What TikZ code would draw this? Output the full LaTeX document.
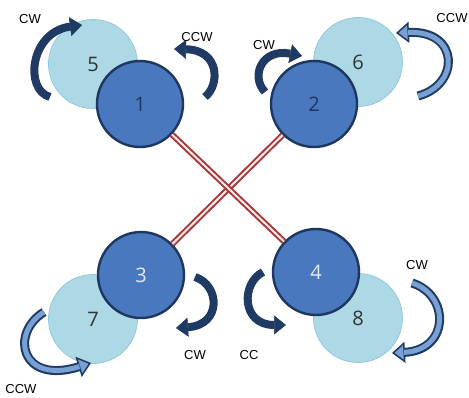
\documentclass[tikz,border=0pt]{standalone}
\usepackage{fontspec}
\setmainfont{Open Sans}
\newfontfamily\labelfont{Liberation Sans}
\usetikzlibrary{arrows.meta}
\definecolor{hubblue}{RGB}{74,120,190}
\definecolor{hubedge}{RGB}{30,55,95}
\definecolor{propblue}{RGB}{173,216,230}
\definecolor{propedge}{RGB}{150,200,220}
\definecolor{spinblue}{RGB}{31,58,99}
\definecolor{spinfill}{RGB}{120,160,210}
\definecolor{armred}{RGB}{170,55,55}

\tikzset{
  hub/.style={draw=hubedge, fill=hubblue, circle, line width=2.4pt, minimum size=86pt, inner sep=0pt, font=\fontsize{20}{20}\selectfont},
  prop/.style={draw=propedge, fill=propblue, circle, line width=0.8pt, minimum size=89pt, inner sep=0pt, text=black!80, font=\fontsize{20}{20}\selectfont},
  arm/.style={draw=armred, line width=2pt, double=red!8, double distance=2pt},
  spin/.style={draw=spinblue, line width=8pt, -{Triangle[length=12pt,width=19pt,line width=0.5pt]}},
  spinopen/.style={draw=spinblue, line width=9pt, -{Triangle[length=13pt,width=21pt,fill=spinfill,line width=1.5pt]},
    postaction={draw=spinfill, line width=5pt, arrows=-, shorten >=12pt}},
  dir/.style={font=\labelfont\fontsize{13}{13}\selectfont}
}

\begin{document}
\begin{tikzpicture}[x=1pt, y=-1pt]
        \useasboundingbox (0,0) rectangle (469,398);

        % Define the rotors
        \node[prop] (rotor5) at (93,64) {5};
        \node[prop] (rotor6) at (358,62) {6};
        \node[prop] (rotor7) at (93,319) {7};
        \node[prop] (rotor8) at (358,318) {8};
        \node[hub, text=hubedge] (rotor1) at (140,104) {1};
        \node[hub, text=hubedge] (rotor2) at (314,104) {2};
        \node[hub, text=white!85!hubblue] (rotor3) at (141,275) {3};
        \node[hub, text=white!85!hubblue] (rotor4) at (316,272) {4};

        % Draw the arms
        \draw[arm] (rotor2) -- (rotor3);
        \draw[arm] (rotor1) -- (rotor4);

        % Spin directions
        \draw[spin] (50,97) .. controls (24,90) and (30,32) .. (82,25);
        \draw[spin] (205,97) .. controls (220,85) and (220,50) .. (174,49);
        \draw[spin] (265,92) .. controls (250,76) and (262,48) .. (302,56);
        \draw[spinopen] (418,96) .. controls (460,85) and (460,30) .. (396,33);
        \draw[spin] (195,277) .. controls (220,285) and (222,325) .. (176,328);
        \draw[spin] (263,272) .. controls (241,283) and (241,325) .. (286,325);
        \draw[spinopen] (44,312) .. controls (10,333) and (20,385) .. (91,363);
        \draw[spinopen] (412,283) .. controls (450,295) and (450,350) .. (392,353);

        \node[dir] (dir5) at (30,19) {CW};
        \node[dir] (dir1) at (197,37) {CCW};
        \node[dir] (dir2) at (264,45) {CW};
        \node[dir] (dir6) at (452,18) {CCW};
        \node[dir] (dir3) at (195,355) {CW};
        \node[dir] (dir4) at (249,355) {CC};
        \node[dir] (dir8) at (417,265) {CW};
        \node[dir] (dir7) at (21,389) {CCW};
    \end{tikzpicture}
\end{document}
